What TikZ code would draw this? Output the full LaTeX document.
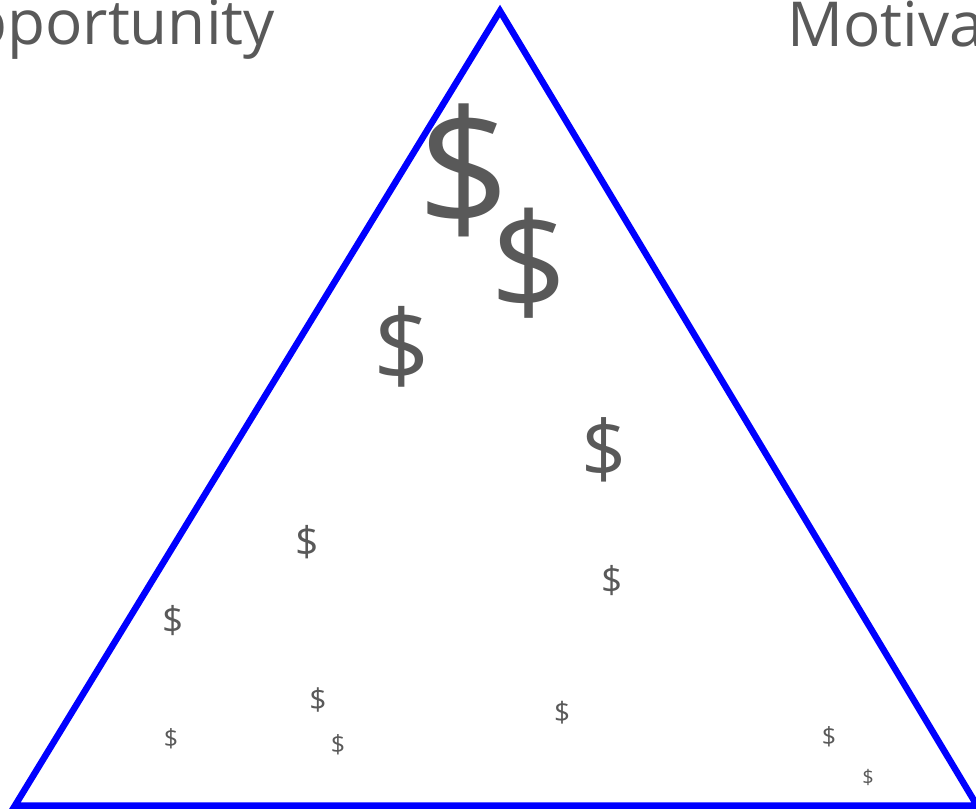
\documentclass[tikz,border=0pt]{standalone}
\usepackage{fontspec}
\setmainfont{Open Sans}
\definecolor{ink}{HTML}{595959}
\definecolor{edgeblue}{HTML}{0000FF}
\tikzset{dollar/.style={text=ink,inner sep=0pt,anchor=center},
  side/.style={draw=edgeblue,line width=6.5pt,line join=miter},
  corner/.style={text=ink,inner sep=0pt,font=\fontsize{62}{62}\selectfont}}
\newcommand{\dsize}[1]{\fontsize{#1}{#1}\selectfont}

\begin{document}
\begin{tikzpicture}[x=1pt,y=-1pt]
\useasboundingbox (0,0) rectangle (976,811);
\clip (0,0) rectangle (976,811);
\fill[white] (0,0) rectangle (976,811);
% the triangle
\coordinate (apex) at (500,11);
\coordinate (left) at (15,805.5);
\coordinate (right) at (977,805.5);
\draw[side] (apex) -- (left) -- (right) -- cycle;
% corner labels, cut by the frame
\node[corner,anchor=base east] (opp) at (275,44) {opportunity};
\node[corner,anchor=base west] (mot) at (787,46) {Motivation};
% dollar signs, big to small
\node[dollar,font=\dsize{163}] (d1) at (464,170) {\$};
\node[dollar,font=\dsize{135}] (d2) at (529,263) {\$};
\node[dollar,font=\dsize{99}] (d3) at (402,347) {\$};
\node[dollar,font=\dsize{79}] (d4) at (604,450) {\$};
\node[dollar,font=\dsize{41}] (d5) at (307,542) {\$};
\node[dollar,font=\dsize{37}] (d6) at (612,581) {\$};
\node[dollar,font=\dsize{37}] (d7) at (173,621) {\$};
\node[dollar,font=\dsize{30}] (d8) at (318,700) {\$};
\node[dollar,font=\dsize{28}] (d9) at (562,713) {\$};
\node[dollar,font=\dsize{25}] (d10) at (171,739) {\$};
\node[dollar,font=\dsize{25}] (d11) at (338,745) {\$};
\node[dollar,font=\dsize{25}] (d12) at (829,737) {\$};
\node[dollar,font=\dsize{20}] (d13) at (868,777) {\$};
\end{tikzpicture}
\end{document}
